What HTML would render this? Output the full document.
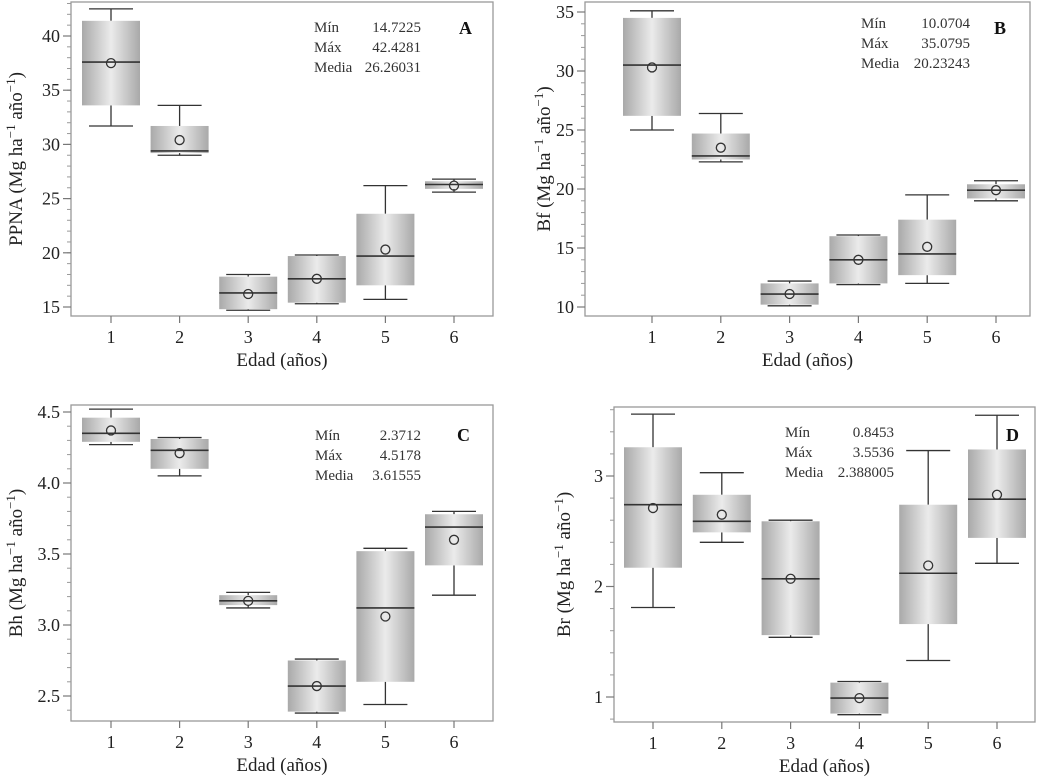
<!DOCTYPE html>
<html><head><meta charset="utf-8">
<style>
body{margin:0;background:#fff;}
svg{display:block;font-family:"Liberation Serif",serif;}
</style></head>
<body>
<svg id="chart" width="1038" height="778" viewBox="0 0 1038 778">
<defs>
<linearGradient id="g" x1="0" x2="1" y1="0" y2="0">
<stop offset="0" stop-color="#a9a9a9"/><stop offset="0.5" stop-color="#ebebeb"/><stop offset="1" stop-color="#a9a9a9"/>
</linearGradient>
</defs>
</svg>
<script>
const categories=[1,2,3,4,5,6];
// [whiskLo, q1, median, q3, whiskHi]
const boxesA=[[31.7,33.6,37.6,41.4,42.5],[29.0,29.2,29.4,31.7,33.6],[14.7,14.8,16.3,17.8,18.0],[15.3,15.4,17.6,19.7,19.8],[15.7,17.0,19.7,23.6,26.2],[25.6,25.9,26.3,26.6,26.8]];
const meansA=[37.5,30.4,16.2,17.6,20.3,26.2];
const ticksA=[15,20,25,30,35,40];
const boxesB=[[25.0,26.2,30.5,34.5,35.1],[22.3,22.5,22.8,24.7,26.4],[10.1,10.2,11.1,12.0,12.2],[11.9,12.0,14.0,16.0,16.1],[12.0,12.7,14.5,17.4,19.5],[19.0,19.2,19.9,20.4,20.7]];
const meansB=[30.3,23.5,11.1,14.0,15.1,19.9];
const ticksB=[10,15,20,25,30,35];
const boxesC=[[4.27,4.29,4.35,4.46,4.52],[4.05,4.10,4.23,4.31,4.32],[3.12,3.14,3.17,3.21,3.23],[2.38,2.39,2.57,2.75,2.76],[2.44,2.60,3.12,3.52,3.54],[3.21,3.42,3.69,3.78,3.80]];
const meansC=[4.37,4.21,3.17,2.57,3.06,3.60];
const ticksC=["2.5","3.0","3.5","4.0","4.5"];
const boxesD=[[1.81,2.17,2.74,3.26,3.56],[2.40,2.49,2.59,2.83,3.03],[1.54,1.56,2.07,2.59,2.60],[0.84,0.85,0.99,1.13,1.14],[1.33,1.66,2.12,2.74,3.23],[2.21,2.44,2.79,3.24,3.55]];
const meansD=[2.71,2.65,2.07,0.99,2.19,2.83];
const ticksD=[1,2,3];
const statsA=["14.7225","42.4281","26.26031"];
const statsB=["10.0704","35.0795","20.23243"];
const statsC=["2.3712","4.5178","3.61555"];
const statsD=["0.8453","3.5536","2.388005"];

const NS="http://www.w3.org/2000/svg";
const svg=document.getElementById('chart');
function mk(tag,at,parent,txt){const e=document.createElementNS(NS,tag);for(const k in at)e.setAttribute(k,at[k]);if(txt!==undefined)e.textContent=txt;(parent||svg).appendChild(e);return e;}

function panel(p){
  const g=mk('g',{});
  
  
  const y=v=>p.ya+(v-p.va)*(p.yb-p.ya)/(p.vb-p.va);
  const x=i=>p.xa+(i-1)*(p.xb-p.xa)/5;
  const frame=mk('rect',{x:p.L,y:p.T,width:p.R-p.L,height:p.B-p.T,fill:'none',stroke:'#999','stroke-width':1.3},g);
  
  
  // minor ticks
  const vlo=p.va+(p.B-p.ya)*(p.vb-p.va)/(p.yb-p.ya), vhi=p.va+(p.T-p.ya)*(p.vb-p.va)/(p.yb-p.ya);
  const lo=Math.min(vlo,vhi),hi=Math.max(vlo,vhi);
  for(let v=Math.ceil(lo/p.minor-1e-9)*p.minor;v<=hi+1e-9;v+=p.minor){
    mk('line',{x1:p.L-4,x2:p.L,y1:y(v),y2:y(v),stroke:'#999','stroke-width':1},g);
  }
  p.ticks.forEach(t=>{
    const v=parseFloat(t);
    mk('line',{x1:p.L-8,x2:p.L,y1:y(v),y2:y(v),stroke:'#777','stroke-width':1.2},g);
    const tl=mk('text',{x:p.L-11,y:y(v)+6,'text-anchor':'end','font-size':18,fill:'#222'},g,t);
    
    
  });
  categories.forEach((c,i)=>{
    const cx=x(c);
    mk('line',{x1:cx,x2:cx,y1:p.B,y2:p.B+7,stroke:'#777','stroke-width':1.2},g);
    const tl=mk('text',{x:cx,y:p.B+27,'text-anchor':'middle','font-size':18,fill:'#222'},g,String(c));
    
    
    const b=p.boxes[i],hw=29,cap=22;
    const bg=mk('g',{},g);
    
    
    mk('line',{x1:cx,x2:cx,y1:y(b[0]),y2:y(b[1]),stroke:'#333','stroke-width':1.3},bg);
    mk('line',{x1:cx,x2:cx,y1:y(b[3]),y2:y(b[4]),stroke:'#333','stroke-width':1.3},bg);
    mk('line',{x1:cx-cap,x2:cx+cap,y1:y(b[0]),y2:y(b[0]),stroke:'#333','stroke-width':1.3},bg);
    mk('line',{x1:cx-cap,x2:cx+cap,y1:y(b[4]),y2:y(b[4]),stroke:'#333','stroke-width':1.3},bg);
    mk('rect',{x:cx-hw,y:y(b[3]),width:2*hw,height:y(b[1])-y(b[3]),fill:'url(#g)'},bg);
    mk('line',{x1:cx-hw,x2:cx+hw,y1:y(b[2]),y2:y(b[2]),stroke:'#333','stroke-width':1.6},bg);
    mk('circle',{cx:cx,cy:y(p.means[i]),r:4.5,fill:'none',stroke:'#333','stroke-width':1.3},bg);
  });
  const xt=mk('text',{x:(p.L+p.R)/2,y:p.B+50,'text-anchor':'middle','font-size':19,fill:'#222'},g,'Edad (años)');
  
  
  const ym=(p.T+p.B)/2;
  const yt=mk('text',{x:0,y:0,transform:`translate(${p.ylx},${ym}) rotate(-90)`,'text-anchor':'middle','font-size':19,fill:'#222'},g);
  
  
  yt.innerHTML=p.yname+' (Mg ha<tspan dy="-7" font-size="13">−1</tspan><tspan dy="7"> año</tspan><tspan dy="-7" font-size="13">−1</tspan><tspan dy="7">)</tspan>';
  const labels=['Mín','Máx','Media'];
  const sg=mk('g',{},g);
  
  
  labels.forEach((l,k)=>{
    mk('text',{x:p.sx,y:p.sy+k*20,'font-size':15,fill:'#333'},sg,l);
    mk('text',{x:p.sr,y:p.sy+k*20,'font-size':15,fill:'#333','text-anchor':'end'},sg,p.stats[k]);
  });
  const lt=mk('text',{x:p.lx,y:p.ly,'font-size':18,'font-weight':'bold',fill:'#111'},g,p.letter);
  
  
}
panel({letter:'A',L:71,R:493,T:2,B:316,xa:111,xb:454,ya:307,yb:36,va:15,vb:40,minor:1,ticks:ticksA,boxes:boxesA,means:meansA,yname:'PPNA',ylx:22,stats:statsA,sx:314,sy:32,sr:421,lx:459,ly:34});
panel({letter:'B',L:585,R:1030,T:2,B:316,xa:652,xb:996,ya:307,yb:12,va:10,vb:35,minor:1,ticks:ticksB,boxes:boxesB,means:meansB,yname:'Bf',ylx:550,stats:statsB,sx:861,sy:28,sr:970,lx:994,ly:34});
panel({letter:'C',L:71,R:493,T:405,B:721,xa:111,xb:454,ya:696,yb:412,va:2.5,vb:4.5,minor:0.1,ticks:ticksC,boxes:boxesC,means:meansC,yname:'Bh',ylx:22,stats:statsC,sx:315,sy:440,sr:421,lx:457,ly:441});
panel({letter:'D',L:614,R:1035,T:407,B:722,xa:653,xb:997,ya:697,yb:476,va:1,vb:3,minor:0.2,ticks:ticksD,boxes:boxesD,means:meansD,yname:'Br',ylx:570,stats:statsD,sx:785,sy:437,sr:894,lx:1006,ly:441});
</script>
</body></html>
